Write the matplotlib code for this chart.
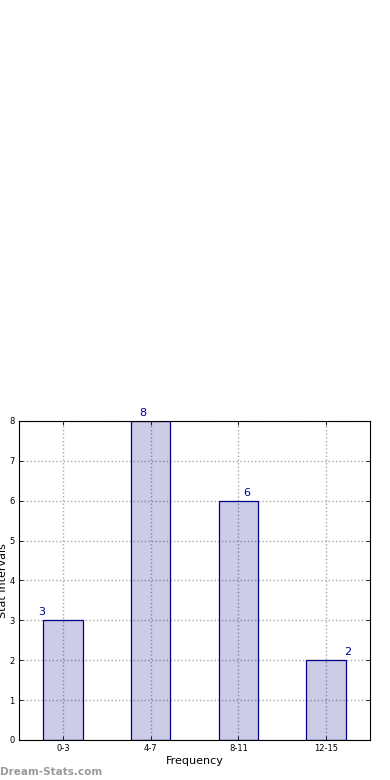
import numpy as np
import matplotlib.pyplot as plt

# bar chart data
categories = ['0-3', '4-7', '8-11', '12-15']
counts = [3, 8, 6, 2]
label_shift = [-0.24, -0.09, 0.09, 0.25]

fig = plt.figure(figsize=(3.9, 7.8), dpi=100)
ax = fig.add_axes([0.0487, 0.0513, 0.9, 0.4090])

x = np.arange(len(categories))
ax.bar(x, counts, width=0.45, color=(0.0, 0.0, 0.545, 0.2), edgecolor='#00008B', linewidth=0.9, zorder=2)

for xi, c, s in zip(x, counts, label_shift):
    ax.text(xi + s, c + 0.08, str(c), color='#00008B', fontsize=8, ha='center', va='bottom')

ax.set_xlim(-0.5, 3.5)
ax.set_ylim(0, 8)
ax.set_xticks(x)
ax.set_xticklabels(categories, fontsize=6)
ax.set_yticks(range(0, 9))
ax.tick_params(axis='y', labelsize=6)
ax.tick_params(direction='in', length=3, top=True, right=True, width=0.6, pad=3)
ax.grid(True, linestyle=':', color='#a8a8a8', linewidth=1.0, zorder=1)
ax.set_axisbelow(True)
for sp in ax.spines.values():
    sp.set_linewidth(0.8)
    sp.set_zorder(5)

ax.set_xlabel('Frequency', fontsize=8, labelpad=2)
ax.set_ylabel('Stat Intervals', fontsize=8)
ax.yaxis.set_label_coords(-0.03, 0.5)

fig.text(0.0, 0.004, 'Dream-Stats.com', color='#9a9a9a', fontsize=7.5, fontweight='bold', ha='left', va='bottom')

fig.savefig('out.png', dpi=100)
